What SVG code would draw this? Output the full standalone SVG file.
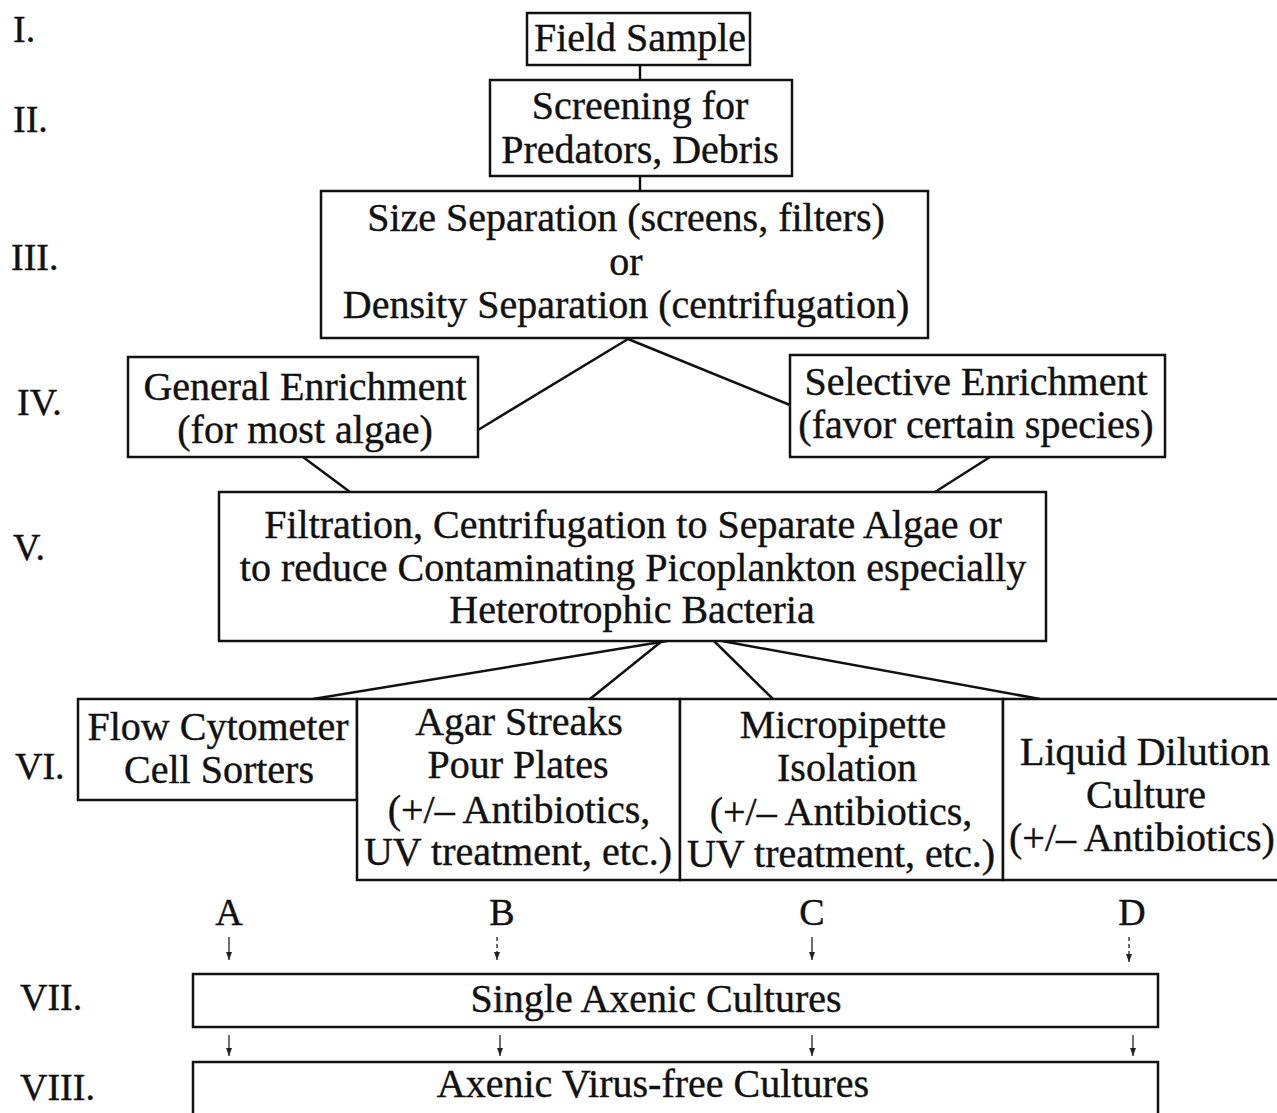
<svg xmlns="http://www.w3.org/2000/svg" width="1277" height="1113" viewBox="0 0 1277 1113">
<defs>
<style>
.box{fill:#fff;stroke:#111;stroke-width:2.5}
.ln{stroke:#111;stroke-width:2.5;fill:none}
.ar{stroke:#222;stroke-width:1.3;fill:none}
.t{font-family:"Liberation Serif","Times New Roman",serif;font-size:40px;fill:#111;stroke:#111;stroke-width:0.4;text-anchor:middle}
.r{font-family:"Liberation Serif","Times New Roman",serif;font-size:38px;fill:#111;stroke:#111;stroke-width:0.4}
.L{font-family:"Liberation Serif","Times New Roman",serif;font-size:38px;fill:#111;stroke:#111;stroke-width:0.4;text-anchor:middle}
</style>
<marker id="ah" viewBox="0 0 8 6" refX="8" refY="3" markerWidth="8" markerHeight="6" markerUnits="userSpaceOnUse" orient="auto">
<path d="M0,0 L8,3 L0,6 Z" fill="#222"/>
</marker>
</defs>
<rect width="1277" height="1113" fill="#fff"/>
<g id="levels">
<text class="r" x="13" y="42">I.</text>
<text class="r" x="13" y="132">II.</text>
<text class="r" x="11" y="270">III.</text>
<text class="r" x="17" y="415">IV.</text>
<text class="r" x="13" y="560">V.</text>
<text class="r" x="15" y="779">VI.</text>
<text class="r" x="20" y="1010">VII.</text>
<text class="r" x="20" y="1100">VIII.</text>
</g>
<g id="connectors">
<line class="ln" x1="640" y1="65" x2="640" y2="80"/>
<line class="ln" x1="640" y1="176" x2="640" y2="191"/>
<line class="ln" x1="628" y1="339" x2="478" y2="430"/>
<line class="ln" x1="628" y1="339" x2="790" y2="405"/>
<line class="ln" x1="303" y1="457" x2="350" y2="492"/>
<line class="ln" x1="990" y1="457" x2="935" y2="492"/>
<line class="ln" x1="667" y1="641" x2="313" y2="699"/>
<line class="ln" x1="662" y1="641" x2="590" y2="699"/>
<line class="ln" x1="714" y1="641" x2="773" y2="699"/>
<line class="ln" x1="722" y1="641" x2="1040" y2="699"/>
<line class="ar" x1="229" y1="937" x2="229" y2="960" marker-end="url(#ah)"/>
<line class="ar" x1="497" y1="937" x2="497" y2="960" stroke-dasharray="4,3" marker-end="url(#ah)"/>
<line class="ar" x1="812" y1="937" x2="812" y2="960" marker-end="url(#ah)"/>
<line class="ar" x1="1129" y1="937" x2="1129" y2="962" stroke-dasharray="4,3" marker-end="url(#ah)"/>
<line class="ar" x1="229" y1="1035" x2="229" y2="1056" marker-end="url(#ah)"/>
<line class="ar" x1="500" y1="1035" x2="500" y2="1056" marker-end="url(#ah)"/>
<line class="ar" x1="812" y1="1035" x2="812" y2="1056" marker-end="url(#ah)"/>
<line class="ar" x1="1133" y1="1035" x2="1133" y2="1056" marker-end="url(#ah)"/>
</g>
<g id="field-sample">
<rect class="box" x="527" y="13" width="223" height="52"/>
<text class="t" x="640" y="51">Field Sample</text>
</g>
<g id="screening">
<rect class="box" x="490" y="80" width="302" height="96"/>
<text class="t" x="640" y="119">Screening for</text>
<text class="t" x="640" y="163">Predators, Debris</text>
</g>
<g id="separation">
<rect class="box" x="321" y="191" width="607" height="147"/>
<text class="t" x="626" y="231">Size Separation (screens, filters)</text>
<text class="t" x="626" y="275">or</text>
<text class="t" x="626" y="318">Density Separation (centrifugation)</text>
</g>
<g id="general-enrichment">
<rect class="box" x="128" y="357" width="350" height="100"/>
<text class="t" x="305" y="400">General Enrichment</text>
<text class="t" x="305" y="443">(for most algae)</text>
</g>
<g id="selective-enrichment">
<rect class="box" x="790" y="355" width="375" height="102"/>
<text class="t" x="976" y="395">Selective Enrichment</text>
<text class="t" x="976" y="438">(favor certain species)</text>
</g>
<g id="filtration">
<rect class="box" x="219" y="492" width="827" height="149"/>
<text class="t" x="633" y="538">Filtration, Centrifugation to Separate Algae or</text>
<text class="t" x="633" y="581">to reduce Contaminating Picoplankton especially</text>
<text class="t" x="632" y="623">Heterotrophic Bacteria</text>
</g>
<g id="flow-cytometer">
<rect class="box" x="78" y="699" width="279" height="101"/>
<text class="t" x="218" y="740">Flow Cytometer</text>
<text class="t" x="219" y="783">Cell Sorters</text>
</g>
<g id="agar-streaks">
<rect class="box" x="357" y="699" width="323" height="181"/>
<text class="t" x="519" y="735">Agar Streaks</text>
<text class="t" x="518" y="778">Pour Plates</text>
<text class="t" x="519" y="823">(+/– Antibiotics,</text>
<text class="t" x="518" y="865">UV treatment, etc.)</text>
</g>
<g id="micropipette">
<rect class="box" x="680" y="699" width="323" height="181"/>
<text class="t" x="843" y="738">Micropipette</text>
<text class="t" x="847" y="781">Isolation</text>
<text class="t" x="841" y="825">(+/– Antibiotics,</text>
<text class="t" x="841" y="867">UV treatment, etc.)</text>
</g>
<g id="liquid-dilution">
<rect class="box" x="1003" y="699" width="290" height="181"/>
<text class="t" x="1145" y="765">Liquid Dilution</text>
<text class="t" x="1146" y="808">Culture</text>
<text class="t" x="1142" y="851">(+/– Antibiotics)</text>
</g>
<g id="route-labels">
<text class="L" x="229" y="925">A</text>
<text class="L" x="502" y="925">B</text>
<text class="L" x="812" y="925">C</text>
<text class="L" x="1132" y="925">D</text>
</g>
<g id="single-axenic">
<rect class="box" x="193" y="974" width="965" height="53"/>
<text class="t" x="656" y="1012">Single Axenic Cultures</text>
</g>
<g id="virus-free">
<rect class="box" x="193" y="1062" width="965" height="70"/>
<text class="t" x="653" y="1097">Axenic Virus-free Cultures</text>
</g>
</svg>
